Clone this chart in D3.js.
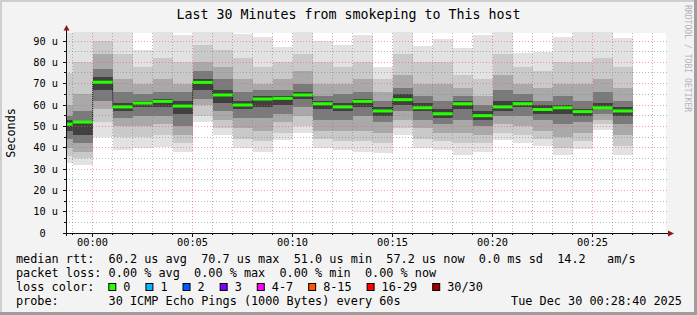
<!DOCTYPE html>
<html>
<head>
<meta charset="utf-8">
<script src="https://cdn.jsdelivr.net/npm/d3@7"></script>
<style>
  body { margin: 0; background: #f3f3f3; }
  svg { display: block; font-family: "DejaVu Sans Mono", monospace; }
  text { white-space: pre; }
</style>
</head>
<body>
<div class="chart"></div>
<script>
var width = 697;
var height = 315;

// minute (relative to 00:00) at which each 60s smoke column ends
var colEnds = [-1, 0, 1, 2, 3, 4, 5, 6, 7, 8, 9, 10, 11, 12, 13, 14, 15, 16, 17, 18, 19, 20, 21, 22, 23, 24, 25, 26, 27];

// median rtt per column (us)
var medians = [51.0, 52.0, 70.7, 59.1, 60.9, 61.7, 59.5, 70.6, 64.7, 60.0, 62.8, 63.1, 64.7, 60.6, 59.1,
               61.7, 57.2, 62.5, 58.7, 55.9, 60.6, 55.0, 59.1, 60.6, 57.9, 58.7, 56.9, 58.7, 57.2];

// smoke, outer band (min..max) to inner band, read per column (us)
var band0Lo = [33, 32, 45, 39, 40, 40.5, 38, 52, 46, 40, 38, 43.7, 47, 40, 39, 38, 37.5, 46, 40, 39, 36.7, 38, 43.7, 42, 40.6, 36.7, 39.5, 48.4, 36.7];
var band0Hi = [93.7, 94, 94, 94, 86, 94, 93, 94, 94, 93.4, 91.7, 87, 94, 90, 88, 93, 78, 94, 87.5, 91, 86.7, 93, 94, 84.4, 85, 92, 94, 94, 91.4];
var band1Lo = [36, 35, 52, 45, 45, 46, 42, 55, 49, 44, 43, 47, 50, 44, 43, 43, 42, 49, 44, 43, 42, 42, 47, 46, 44, 40, 43, 51, 41];
var band1Hi = [75, 80, 90, 84, 78, 82, 80, 88, 86, 82, 78, 80, 84, 80, 78, 80, 72, 84, 80, 80, 74, 72, 84, 78, 76, 80, 80, 82, 78];
var band2Lo = [40, 38, 58, 50, 50, 51, 46, 60, 53, 49, 48, 52, 55, 48, 48, 48, 47, 53, 49, 47, 47, 46, 51, 50, 48, 45, 47, 53, 46];
var band2Hi = [60, 65, 84, 72, 70, 72, 70, 80, 78, 72, 70, 72, 76, 70, 70, 72, 66, 74, 70, 70, 68, 64, 74, 70, 68, 70, 70, 72, 68];
var band3Lo = [44, 42, 62, 54, 55, 55, 50, 63, 57, 54, 54, 56, 59, 53, 53, 55, 52, 57, 53, 51, 53, 50, 55, 55, 53, 51, 52, 56, 51];
var band3Hi = [55, 57, 77, 66, 65, 66, 66, 76, 72, 66, 67, 67, 70, 64, 65, 66, 62, 68, 64, 62, 64, 60, 67, 65, 62, 64, 62, 66, 62];
var band4Lo = [48, 46, 67, 57, 59, 59, 56, 67, 61, 58, 59, 60, 63, 58, 57, 59, 55, 60, 57, 54, 58, 53, 57, 59, 56, 56, 55, 58, 55];
var band4Hi = [53, 52, 73, 61, 62, 63, 62, 72, 67, 62, 64, 64, 66, 62, 61, 63, 59, 65, 61, 58, 62, 57, 62, 62, 60, 60, 58, 61, 59];

var bandLo = [band0Lo, band1Lo, band2Lo, band3Lo, band4Lo];
var bandHi = [band0Hi, band1Hi, band2Hi, band3Hi, band4Hi];
var bandColors = ["#e2e2e2", "#c9c9c9", "#a9a9a9", "#7a7a7a", "#404040"];

var yMajor = [10, 20, 30, 40, 50, 60, 70, 80, 90];
var yMinor = [5, 15, 25, 35, 45, 55, 65, 75, 85];
var yLabels = [0, 10, 20, 30, 40, 50, 60, 70, 80, 90];

var lossLabels = ["0", "1", "2", "3", "4-7", "8-15", "16-29", "30/30"];
var lossColors = ["#26ff00", "#00b8ff", "#0059ff", "#7e00ff", "#ff00ff", "#ff5500", "#ff0000", "#a10000"];

var legendLines = [
  "median rtt:  60.2 us avg  70.7 us max  51.0 us min  57.2 us now  0.0 ms sd  14.2   am/s",
  "packet loss: 0.00 % avg  0.00 % max  0.00 % min  0.00 % now",
  "loss color:",
  "probe:       30 ICMP Echo Pings (1000 Bytes) every 60s"
];
var stamp = "Tue Dec 30 00:28:40 2025";

var t0 = new Date(2025, 11, 30, 0, 0, 0);
var start = d3.timeSecond.offset(t0, -80);
var end = d3.timeSecond.offset(t0, 28 * 60 + 40);

var x = d3.scaleTime().domain([start, end]).range([66, 666]);
var y = d3.scaleLinear().domain([0, 93.75]).range([233, 33]);
var px = function(v) { return Math.floor(v) + 0.5; };

var svg = d3.select(".chart").append("svg")
    .attr("width", width)
    .attr("height", height);

// frame
svg.append("rect").attr("width", width).attr("height", height).attr("fill", "#f3f3f3");
svg.append("rect").attr("x", 0).attr("y", 0).attr("width", width).attr("height", 2).attr("fill", "#cfcfcf");
svg.append("rect").attr("x", 0).attr("y", 0).attr("width", 2).attr("height", height).attr("fill", "#cfcfcf");
svg.append("rect").attr("x", 0).attr("y", height - 3).attr("width", width).attr("height", 3).attr("fill", "#9e9e9e");
svg.append("rect").attr("x", width - 3).attr("y", 0).attr("width", 3).attr("height", height).attr("fill", "#9e9e9e");

svg.append("text")
    .attr("x", 348.5).attr("y", 18.5)
    .attr("text-anchor", "middle")
    .style("font-size", "13.3px")
    .attr("fill", "#000")
    .text("Last 30 Minutes from smokeping to This host");

svg.append("text")
    .attr("transform", "translate(685,5) rotate(90)")
    .style("font-size", "8.1px")
    .attr("fill", "#b4b4b4")
    .text("RRDTOOL / TOBI OETIKER");

svg.append("text")
    .attr("transform", "translate(15,133) rotate(-90)")
    .attr("text-anchor", "middle")
    .style("font-size", "11.8px")
    .text("Seconds");

// canvas
svg.append("rect")
    .attr("x", x.range()[0]).attr("y", y.range()[1])
    .attr("width", x.range()[1] - x.range()[0])
    .attr("height", y.range()[0] - y.range()[1])
    .attr("fill", "#fff");

var cols = colEnds.map(function(m, i) {
  var e = d3.timeMinute.offset(t0, m);
  var s = d3.timeMinute.offset(e, -1);
  if (s < start) s = start;
  return { x0: x(s), x1: x(e), i: i };
});

// smoke
var smoke = svg.append("g");
bandLo.forEach(function(lo, b) {
  smoke.selectAll(".b" + b)
      .data(cols)
    .enter().append("rect")
      .attr("class", "b" + b)
      .attr("x", function(d) { return d.x0; })
      .attr("width", function(d) { return d.x1 - d.x0; })
      .attr("y", function(d) { return y(bandHi[b][d.i]); })
      .attr("height", function(d) { return y(lo[d.i]) - y(bandHi[b][d.i]); })
      .attr("fill", bandColors[b])
      .attr("shape-rendering", "crispEdges");
});

// grid
var grid = svg.append("g").attr("stroke-width", 1).attr("stroke-dasharray", "1,2");
var minTicks = x.ticks(d3.timeMinute.every(1));
var majTicks = x.ticks(d3.timeMinute.every(5));
var isMajor = function(t) { return t.getMinutes() % 5 === 0; };

grid.selectAll(".vmin")
    .data(minTicks.filter(function(t) { return !isMajor(t); }))
  .enter().append("line")
    .attr("x1", function(d) { return px(x(d)); }).attr("x2", function(d) { return px(x(d)); })
    .attr("y1", 33).attr("y2", 233)
    .attr("stroke", "rgba(128,128,128,0.55)");
grid.selectAll(".hmin")
    .data(yMinor)
  .enter().append("line")
    .attr("x1", 66).attr("x2", 668)
    .attr("y1", function(d) { return px(y(d)); }).attr("y2", function(d) { return px(y(d)); })
    .attr("stroke", "rgba(128,128,128,0.55)");
grid.selectAll(".vmaj")
    .data(majTicks)
  .enter().append("line")
    .attr("x1", function(d) { return px(x(d)); }).attr("x2", function(d) { return px(x(d)); })
    .attr("y1", 33).attr("y2", 233)
    .attr("stroke", "rgba(230,100,100,0.6)");
grid.selectAll(".hmaj")
    .data(yMajor)
  .enter().append("line")
    .attr("x1", 66).attr("x2", 668)
    .attr("y1", function(d) { return px(y(d)); }).attr("y2", function(d) { return px(y(d)); })
    .attr("stroke", "rgba(230,100,100,0.6)");

// median: dotted step connectors then green segments
var stepLine = d3.line()
    .x(function(d) { return d[0]; })
    .y(function(d) { return d[1]; })
    .curve(d3.curveStepAfter);
var stepPts = cols.map(function(d) { return [d.x0, y(medians[d.i])]; });
svg.append("path")
    .attr("d", stepLine(stepPts))
    .attr("fill", "none")
    .attr("stroke", "#111")
    .attr("stroke-width", 1)
    .attr("stroke-dasharray", "1,1");

svg.append("g").selectAll("line")
    .data(cols)
  .enter().append("line")
    .attr("x1", function(d) { return d.x0; })
    .attr("x2", function(d) { return d.x1; })
    .attr("y1", function(d) { return y(medians[d.i]); })
    .attr("y2", function(d) { return y(medians[d.i]); })
    .attr("stroke", lossColors[0])
    .attr("stroke-width", 3);

// axes
var axis = svg.append("g").attr("stroke", "#101010").attr("shape-rendering", "crispEdges");
axis.append("line").attr("x1", 63).attr("x2", 669).attr("y1", 233.5).attr("y2", 233.5);
axis.append("line").attr("x1", 66.5).attr("x2", 66.5).attr("y1", 236).attr("y2", 30);
axis.selectAll(".xt")
    .data(minTicks)
  .enter().append("line")
    .attr("x1", function(d) { return px(x(d)); }).attr("x2", function(d) { return px(x(d)); })
    .attr("y1", 233).attr("y2", function(d) { return isMajor(d) ? 237 : 235; });
axis.selectAll(".yt")
    .data(yMinor.concat(yMajor))
  .enter().append("line")
    .attr("y1", function(d) { return px(y(d)); }).attr("y2", function(d) { return px(y(d)); })
    .attr("x1", function(d) { return d % 10 === 0 ? 63 : 64; }).attr("x2", 67);

svg.append("path").attr("d", "M668,230.5L674,233.5L668,236.5Z").attr("fill", "#8a1a1a");
svg.append("path").attr("d", "M63.5,30.5L66.5,25L69.5,30.5Z").attr("fill", "#8a1a1a");

// axis labels
svg.append("g").selectAll("text")
    .data(majTicks)
  .enter().append("text")
    .attr("x", function(d) { return px(x(d)); })
    .attr("y", 246)
    .attr("text-anchor", "middle")
    .style("font-size", "10.3px")
    .text(d3.timeFormat("%H:%M"));

svg.append("g").selectAll("text")
    .data(yLabels)
  .enter().append("text")
    .attr("x", 58)
    .attr("y", function(d) { return px(y(d)); })
    .attr("dy", "0.35em")
    .attr("text-anchor", "end")
    .style("font-size", "10.3px")
    .text(function(d) { return d === 0 ? "0\u00a0\u00a0" : d + " u"; });

// legend
var legend = svg.append("g").style("font-size", "11.83px");
legend.selectAll("text")
    .data(legendLines)
  .enter().append("text")
    .attr("x", 16)
    .attr("y", function(d, i) { return 263.3 + i * 14; })
    .text(function(d) { return d; });

legend.append("text")
    .attr("x", 682).attr("y", 263.3 + 3 * 14)
    .attr("text-anchor", "end")
    .text(stamp);

var lx = 108.3;
lossLabels.forEach(function(lab, i) {
  legend.append("rect")
      .attr("x", lx + 0.5).attr("y", 283.5)
      .attr("width", 7).attr("height", 7)
      .attr("fill", lossColors[i])
      .attr("stroke", "#000");
  legend.append("text")
      .attr("x", lx + 15).attr("y", 263.3 + 2 * 14)
      .text(lab);
  lx = lx + 15 + lab.length * 7.12 + 15;
});
</script>
</body>
</html>
